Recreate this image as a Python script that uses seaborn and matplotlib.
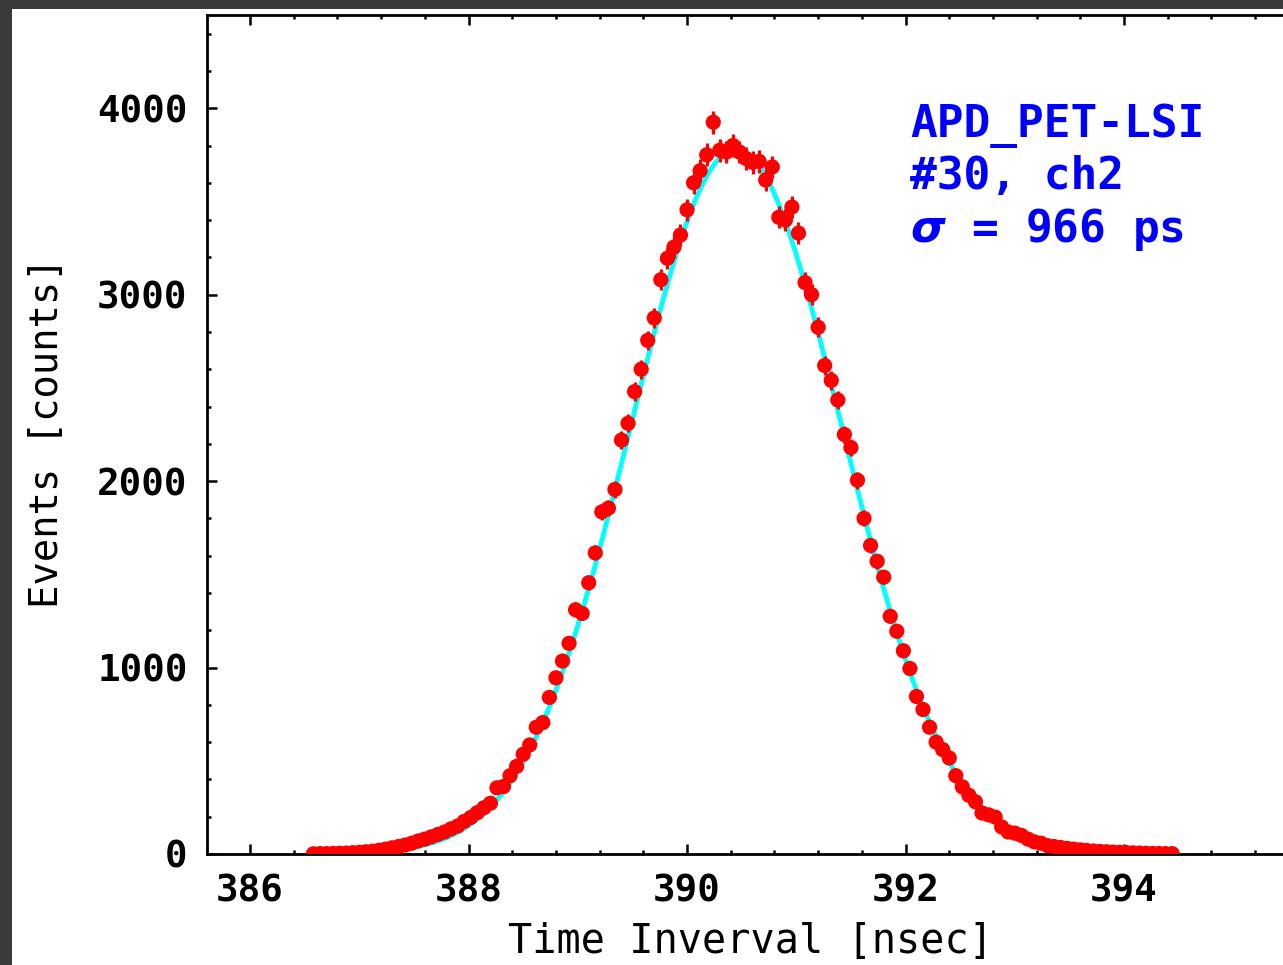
import numpy as np
import matplotlib
matplotlib.use("Agg")
import matplotlib.pyplot as plt
from matplotlib.patches import Rectangle
from matplotlib.ticker import MultipleLocator, FormatStrFormatter
import seaborn as sns

# ---- data ----
bin_start = 386.58
bin_width = 0.06
counts = [
    1, 2, 2, 3, 4, 5, 7, 9, 12, 15,
    20, 26, 33, 40, 48, 58, 70, 80, 92, 105,
    118, 135, 150, 175, 196, 222, 248, 272, 355, 362,
    420, 470, 535, 585, 680, 705, 840, 945, 1035, 1130,
    1310, 1290, 1455, 1615, 1835, 1855, 1955, 2220, 2310, 2480,
    2600, 2755, 2875, 3080, 3195, 3255, 3320, 3455, 3600, 3665,
    3750, 3925, 3775, 3765, 3800, 3765, 3730, 3710, 3715, 3615,
    3685, 3415, 3400, 3470, 3330, 3065, 3000, 2825, 2620, 2540,
    2435, 2250, 2180, 2005, 1800, 1655, 1570, 1485, 1275, 1195,
    1090, 995, 845, 775, 680, 600, 560, 515, 420, 360,
    315, 280, 220, 210, 198, 145, 118, 112, 100, 80,
    65, 58, 45, 40, 35, 30, 26, 22, 19, 16,
    14, 12, 10, 9, 8, 6, 5, 4, 3, 3,
    2, 2,
]
# Gaussian fit parameters shown by the cyan curve
fit_amp = 3780.0
fit_mean = 390.45
fit_sigma = 0.966

xticks_major = [386, 388, 390, 392, 394]
yticks_major = [0, 1000, 2000, 3000, 4000]
x_label = "Time Inverval [nsec]"
y_label = "Events [counts]"
info_lines = ["APD_PET-LSI", "#30, ch2", r"$\sigma$ = 966 ps"]

# ---- derived ----
centers = bin_start + bin_width * np.arange(len(counts))
counts_arr = np.array(counts, dtype=float)
errors = np.sqrt(counts_arr)
xfit = np.linspace(centers[0], centers[-1], 400)
yfit = fit_amp * np.exp(-0.5 * ((xfit - fit_mean) / fit_sigma) ** 2)

# ---- figure ----
sns.set_style("ticks")
plt.rcParams["font.family"] = ["DejaVu Sans Mono", "DejaVu Sans"]
plt.rcParams["font.weight"] = "bold"
plt.rcParams["mathtext.fontset"] = "dejavusans"
plt.rcParams["mathtext.default"] = "it"

W, H = 1283, 965
fig = plt.figure(figsize=(W / 100, H / 100), dpi=100, facecolor="#3a3a3a")
fig.patches.append(Rectangle((12 / W, 0), 1 - 12 / W, 1 - 9 / H,
                             transform=fig.transFigure, facecolor="white",
                             edgecolor="none", zorder=-10))

ax = fig.add_axes([207 / W, 1 - 854 / H, 1 - 207 / W, (854 - 15) / H])
ax.set_facecolor("white")
ax.set_zorder(1)

sns.lineplot(x=xfit, y=yfit, ax=ax, color="#00ffff", linewidth=3.5, zorder=2)
ax.errorbar(centers, counts_arr, yerr=errors, fmt="none", ecolor="#ff0000",
            elinewidth=2.3, capsize=0, zorder=3)
sns.scatterplot(x=centers, y=counts_arr, ax=ax, color="#ff0000", s=120,
                marker="o", edgecolor="none", linewidth=0, zorder=4)

ax.set_xlim(385.606, 395.455)
ax.set_ylim(0, 4500)
ax.xaxis.set_major_locator(MultipleLocator(2))
ax.xaxis.set_minor_locator(MultipleLocator(0.4))
ax.yaxis.set_major_locator(MultipleLocator(1000))
ax.yaxis.set_minor_locator(MultipleLocator(200))
ax.set_xticks(xticks_major)
ax.set_yticks(yticks_major)
ax.xaxis.set_major_formatter(FormatStrFormatter("%d"))
ax.yaxis.set_major_formatter(FormatStrFormatter("%d"))

for side in ["left", "bottom", "top"]:
    ax.spines[side].set_visible(True)
    ax.spines[side].set_linewidth(2.0)
    ax.spines[side].set_color("black")
ax.spines["right"].set_visible(False)

ax.tick_params(which="both", direction="in", top=True, right=False,
               width=1.8, color="black", labelsize=27, labelcolor="black")
ax.tick_params(which="major", length=7, pad=14)
ax.tick_params(which="minor", length=3.2)
for lbl in ax.get_xticklabels() + ax.get_yticklabels():
    lbl.set_fontweight("bold")

ax.set_xlabel(x_label, fontsize=29, color="black", fontweight="normal")
ax.set_ylabel(y_label, fontsize=28, color="black", fontweight="normal")
ax.xaxis.label.set_verticalalignment("baseline")
ax.xaxis.set_label_coords((751 - 207) / 1076, -(953 - 854) / 839)
ax.yaxis.label.set_verticalalignment("baseline")
ax.yaxis.set_label_coords(-(207 - 58) / 1076, (854 - 433) / 839)

baselines = [137, 189, 242]
for txt, yb in zip(info_lines, baselines):
    fig.text(910 / W, 1 - yb / H, txt, color="#0000ff", fontsize=32,
             va="baseline", ha="left", zorder=5, fontweight="bold")

fig.savefig("out.png", dpi=100, facecolor=fig.get_facecolor())
